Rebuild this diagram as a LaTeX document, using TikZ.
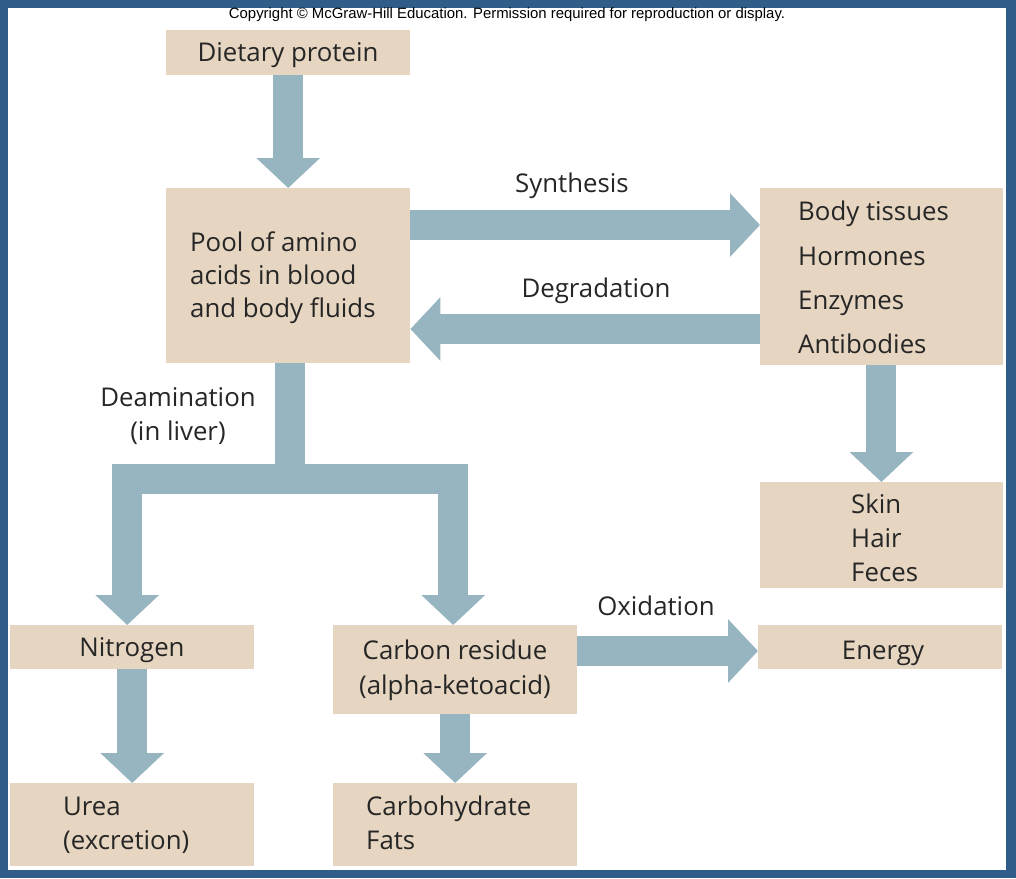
\documentclass[tikz,border=0pt]{standalone}
\usepackage{fontspec}
\setmainfont{Open Sans}
\newfontfamily\arialf{Liberation Sans}
\usetikzlibrary{arrows.meta}
\definecolor{bord}{HTML}{2F5C88}
\definecolor{tan}{HTML}{E6D5C0}
\definecolor{arr}{HTML}{97B5C1}
\begin{document}
\begin{tikzpicture}[x=1pt,y=-1pt,
 box/.style={fill=tan,draw=none,inner sep=0,anchor=north west},
 txt/.style={font=\fontsize{25.8}{30}\selectfont,text=black!85,inner sep=0,text height=22pt,text depth=3pt},
 big/.style={draw=arr,line width=30pt,line join=miter,-{Triangle[width=62pt,length=30pt]}}]
\useasboundingbox (0,0) rectangle (1016,878);
\fill[bord] (0,0) rectangle (1016,878);
\fill[white] (8,8) rectangle (1006,870);
\node[font=\arialf\fontsize{14.9}{16}\selectfont,inner sep=0] (copy) at (507,15) {Copyright © McGraw-Hill Education. Permission required for reproduction or display.};
% boxes
\node[box,minimum width=244,minimum height=45] (diet) at (166,30) {};
\node[box,minimum width=244,minimum height=175] (pool) at (166,188) {};
\node[box,minimum width=243,minimum height=177] (body) at (760,188) {};
\node[box,minimum width=243,minimum height=106] (skin) at (760,482) {};
\node[box,minimum width=244,minimum height=44] (nitro) at (10,625) {};
\node[box,minimum width=244,minimum height=89] (carbon) at (333,625) {};
\node[box,minimum width=244,minimum height=44] (energy) at (758,625) {};
\node[box,minimum width=244,minimum height=83] (urea) at (10,783) {};
\node[box,minimum width=244,minimum height=83] (carb) at (333,783) {};
% texts
\node[txt] at (288,52) {Dietary protein};
\node[txt,anchor=west] at (190,242) {Pool of amino};
\node[txt,anchor=west] at (190,275) {acids in blood};
\node[txt,anchor=west] at (190,308) {and body fluids};
\node[txt,anchor=west] at (798,211) {Body tissues};
\node[txt,anchor=west] at (798,256) {Hormones};
\node[txt,anchor=west] at (798,300) {Enzymes};
\node[txt,anchor=west] at (798,344) {Antibodies};
\node[txt,anchor=west] at (851,504) {Skin};
\node[txt,anchor=west] at (851,538) {Hair};
\node[txt,anchor=west] at (851,572) {Feces};
\node[txt] at (132,647) {Nitrogen};
\node[txt] at (455,650) {Carbon residue};
\node[txt] at (455,685) {(alpha-ketoacid)};
\node[txt] at (883,650) {Energy};
\node[txt,anchor=west] at (63,806) {Urea};
\node[txt,anchor=west] at (63,840) {(excretion)};
\node[txt,anchor=west] at (366,806) {Carbohydrate};
\node[txt,anchor=west] at (366,840) {Fats};
\node[txt] (syn) at (572,183) {Synthesis};
\node[txt] (deg) at (596,288) {Degradation};
\node[txt] (dea1) at (178,397) {Deamination};
\node[txt] (dea2) at (178,431) {(in liver)};
\node[txt] (oxi) at (656,606) {Oxidation};
% arrows
\draw[big] (diet.south) -- (pool.north);
\draw[big] ([yshift=-37]pool.north east) -- ([yshift=-37]body.north west);
\draw[big] ([yshift=-141]body.north west) -- ([yshift=-141]pool.north east);
\draw[big] ([xshift=-122]body.south east) -- ([xshift=-122]skin.north east);
\coordinate (split) at ([xshift=2]pool.south);
\draw[big] (split) -- ++(0,116) -| ([xshift=-5]nitro.north);
\draw[big] (split) -- ++(0,116) -| ([xshift=-2]carbon.north);
\draw[big] ([xshift=0]nitro.south) -- (urea.north);
\draw[big] (carbon.south) -- (carb.north);
\draw[big] ([yshift=-26]carbon.north east) -- ([yshift=-26]energy.north west);
\end{tikzpicture}
\end{document}
